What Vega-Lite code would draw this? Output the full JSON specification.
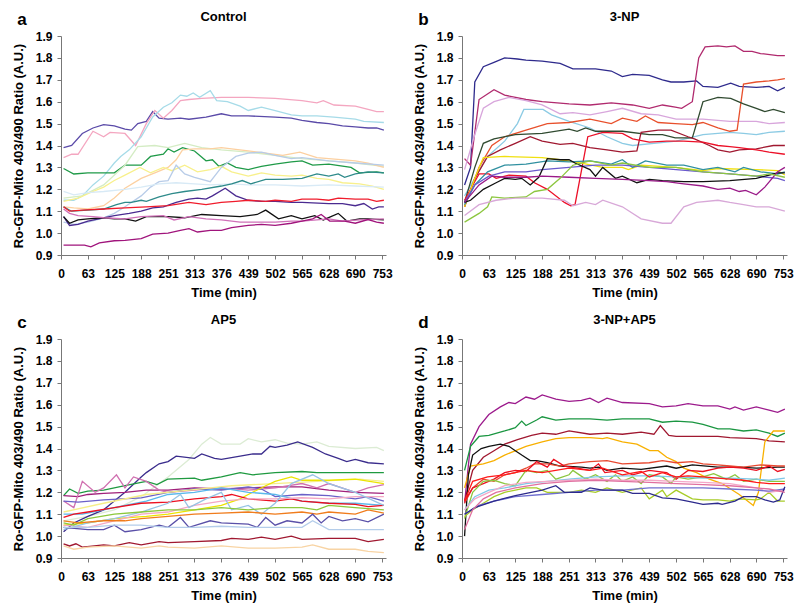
{
"$schema":"https://vega.github.io/schema/vega-lite/v6.json",
"padding":{"left":12,"top":11,"right":5,"bottom":5},
"background":"white",
"config":{"font":"Liberation Sans","view":{"stroke":null},
"axis":{"labelFont":"Liberation Sans","labelFontWeight":"bold","labelFontSize":12,"labelColor":"black","titleFont":"Liberation Sans","titleFontSize":13,"titleFontWeight":"bold","titleColor":"black","domainColor":"#777","tickColor":"#777","grid":false,"tickSize":4},
"axisX":{"labelPadding":9,"titlePadding":7,"labelFlush":false,"labelOverlap":false,"labelAngle":0},
"axisY":{"labelPadding":5,"titlePadding":10},
"title":{"font":"Liberation Sans","fontSize":13,"fontWeight":"bold","color":"black","offset":6}},
"datasets":{
"a":[
{"s":1,"t":6,"v":1.39},{"s":1,"t":25,"v":1.40},{"s":1,"t":50,"v":1.455},{"s":1,"t":75,"v":1.48},{"s":1,"t":100,"v":1.495},{"s":1,"t":125,"v":1.49},{"s":1,"t":150,"v":1.475},{"s":1,"t":165,"v":1.47},{"s":1,"t":180,"v":1.50},{"s":1,"t":200,"v":1.51},{"s":1,"t":215,"v":1.555},{"s":1,"t":230,"v":1.525},{"s":1,"t":251,"v":1.52},{"s":1,"t":280,"v":1.525},{"s":1,"t":300,"v":1.52},{"s":1,"t":340,"v":1.53},{"s":1,"t":376,"v":1.545},{"s":1,"t":400,"v":1.535},{"s":1,"t":439,"v":1.535},{"s":1,"t":502,"v":1.53},{"s":1,"t":540,"v":1.525},{"s":1,"t":565,"v":1.515},{"s":1,"t":600,"v":1.505},{"s":1,"t":628,"v":1.50},{"s":1,"t":660,"v":1.49},{"s":1,"t":690,"v":1.485},{"s":1,"t":720,"v":1.48},{"s":1,"t":740,"v":1.48},{"s":1,"t":757,"v":1.47},
{"s":2,"t":6,"v":1.345},{"s":2,"t":25,"v":1.36},{"s":2,"t":40,"v":1.36},{"s":2,"t":75,"v":1.465},{"s":2,"t":100,"v":1.44},{"s":2,"t":115,"v":1.46},{"s":2,"t":150,"v":1.455},{"s":2,"t":175,"v":1.40},{"s":2,"t":200,"v":1.50},{"s":2,"t":220,"v":1.56},{"s":2,"t":240,"v":1.525},{"s":2,"t":260,"v":1.56},{"s":2,"t":280,"v":1.605},{"s":2,"t":300,"v":1.61},{"s":2,"t":330,"v":1.615},{"s":2,"t":376,"v":1.62},{"s":2,"t":439,"v":1.62},{"s":2,"t":502,"v":1.615},{"s":2,"t":565,"v":1.605},{"s":2,"t":600,"v":1.595},{"s":2,"t":615,"v":1.605},{"s":2,"t":640,"v":1.585},{"s":2,"t":690,"v":1.58},{"s":2,"t":720,"v":1.565},{"s":2,"t":740,"v":1.555},{"s":2,"t":757,"v":1.555},
{"s":3,"t":6,"v":1.15},{"s":3,"t":30,"v":1.15},{"s":3,"t":50,"v":1.17},{"s":3,"t":75,"v":1.22},{"s":3,"t":100,"v":1.26},{"s":3,"t":125,"v":1.32},{"s":3,"t":140,"v":1.35},{"s":3,"t":160,"v":1.38},{"s":3,"t":188,"v":1.44},{"s":3,"t":215,"v":1.53},{"s":3,"t":240,"v":1.575},{"s":3,"t":260,"v":1.595},{"s":3,"t":280,"v":1.63},{"s":3,"t":295,"v":1.625},{"s":3,"t":310,"v":1.64},{"s":3,"t":325,"v":1.62},{"s":3,"t":350,"v":1.65},{"s":3,"t":365,"v":1.605},{"s":3,"t":390,"v":1.60},{"s":3,"t":420,"v":1.58},{"s":3,"t":439,"v":1.56},{"s":3,"t":470,"v":1.575},{"s":3,"t":500,"v":1.56},{"s":3,"t":540,"v":1.54},{"s":3,"t":565,"v":1.535},{"s":3,"t":600,"v":1.535},{"s":3,"t":640,"v":1.53},{"s":3,"t":690,"v":1.52},{"s":3,"t":710,"v":1.51},{"s":3,"t":757,"v":1.505},
{"s":4,"t":6,"v":1.295},{"s":4,"t":30,"v":1.27},{"s":4,"t":63,"v":1.275},{"s":4,"t":100,"v":1.275},{"s":4,"t":125,"v":1.275},{"s":4,"t":150,"v":1.31},{"s":4,"t":188,"v":1.31},{"s":4,"t":210,"v":1.35},{"s":4,"t":240,"v":1.36},{"s":4,"t":251,"v":1.385},{"s":4,"t":265,"v":1.37},{"s":4,"t":285,"v":1.39},{"s":4,"t":313,"v":1.375},{"s":4,"t":340,"v":1.33},{"s":4,"t":355,"v":1.335},{"s":4,"t":370,"v":1.305},{"s":4,"t":390,"v":1.32},{"s":4,"t":410,"v":1.30},{"s":4,"t":439,"v":1.29},{"s":4,"t":470,"v":1.305},{"s":4,"t":502,"v":1.315},{"s":4,"t":540,"v":1.325},{"s":4,"t":565,"v":1.33},{"s":4,"t":590,"v":1.31},{"s":4,"t":628,"v":1.315},{"s":4,"t":680,"v":1.30},{"s":4,"t":700,"v":1.275},{"s":4,"t":740,"v":1.28},{"s":4,"t":757,"v":1.275},
{"s":5,"t":6,"v":1.16},{"s":5,"t":50,"v":1.17},{"s":5,"t":100,"v":1.22},{"s":5,"t":150,"v":1.31},{"s":5,"t":180,"v":1.395},{"s":5,"t":220,"v":1.40},{"s":5,"t":251,"v":1.39},{"s":5,"t":290,"v":1.41},{"s":5,"t":330,"v":1.39},{"s":5,"t":376,"v":1.38},{"s":5,"t":439,"v":1.37},{"s":5,"t":502,"v":1.355},{"s":5,"t":565,"v":1.34},{"s":5,"t":628,"v":1.33},{"s":5,"t":690,"v":1.32},{"s":5,"t":757,"v":1.305},
{"s":6,"t":6,"v":1.12},{"s":6,"t":30,"v":1.115},{"s":6,"t":63,"v":1.11},{"s":6,"t":100,"v":1.125},{"s":6,"t":125,"v":1.16},{"s":6,"t":150,"v":1.205},{"s":6,"t":188,"v":1.25},{"s":6,"t":220,"v":1.275},{"s":6,"t":251,"v":1.30},{"s":6,"t":270,"v":1.335},{"s":6,"t":285,"v":1.38},{"s":6,"t":313,"v":1.385},{"s":6,"t":350,"v":1.385},{"s":6,"t":376,"v":1.39},{"s":6,"t":400,"v":1.385},{"s":6,"t":439,"v":1.375},{"s":6,"t":480,"v":1.365},{"s":6,"t":520,"v":1.355},{"s":6,"t":560,"v":1.37},{"s":6,"t":600,"v":1.345},{"s":6,"t":628,"v":1.34},{"s":6,"t":690,"v":1.33},{"s":6,"t":720,"v":1.32},{"s":6,"t":757,"v":1.30},
{"s":7,"t":6,"v":1.145},{"s":7,"t":40,"v":1.16},{"s":7,"t":75,"v":1.19},{"s":7,"t":100,"v":1.21},{"s":7,"t":125,"v":1.24},{"s":7,"t":150,"v":1.265},{"s":7,"t":185,"v":1.30},{"s":7,"t":210,"v":1.275},{"s":7,"t":240,"v":1.30},{"s":7,"t":260,"v":1.285},{"s":7,"t":290,"v":1.31},{"s":7,"t":320,"v":1.28},{"s":7,"t":350,"v":1.29},{"s":7,"t":376,"v":1.305},{"s":7,"t":400,"v":1.28},{"s":7,"t":439,"v":1.26},{"s":7,"t":470,"v":1.275},{"s":7,"t":502,"v":1.265},{"s":7,"t":540,"v":1.26},{"s":7,"t":565,"v":1.265},{"s":7,"t":600,"v":1.25},{"s":7,"t":628,"v":1.245},{"s":7,"t":660,"v":1.23},{"s":7,"t":700,"v":1.225},{"s":7,"t":730,"v":1.215},{"s":7,"t":757,"v":1.20},
{"s":8,"t":6,"v":1.05},{"s":8,"t":30,"v":1.04},{"s":8,"t":63,"v":1.05},{"s":8,"t":100,"v":1.07},{"s":8,"t":125,"v":1.09},{"s":8,"t":150,"v":1.12},{"s":8,"t":188,"v":1.17},{"s":8,"t":210,"v":1.21},{"s":8,"t":230,"v":1.235},{"s":8,"t":251,"v":1.24},{"s":8,"t":270,"v":1.31},{"s":8,"t":290,"v":1.27},{"s":8,"t":313,"v":1.255},{"s":8,"t":350,"v":1.235},{"s":8,"t":376,"v":1.30},{"s":8,"t":410,"v":1.35},{"s":8,"t":439,"v":1.365},{"s":8,"t":470,"v":1.37},{"s":8,"t":502,"v":1.355},{"s":8,"t":540,"v":1.34},{"s":8,"t":565,"v":1.345},{"s":8,"t":628,"v":1.33},{"s":8,"t":690,"v":1.32},{"s":8,"t":757,"v":1.31},
{"s":9,"t":6,"v":1.19},{"s":9,"t":30,"v":1.175},{"s":9,"t":63,"v":1.185},{"s":9,"t":100,"v":1.19},{"s":9,"t":150,"v":1.20},{"s":9,"t":188,"v":1.21},{"s":9,"t":230,"v":1.225},{"s":9,"t":270,"v":1.23},{"s":9,"t":313,"v":1.225},{"s":9,"t":350,"v":1.22},{"s":9,"t":400,"v":1.225},{"s":9,"t":439,"v":1.22},{"s":9,"t":502,"v":1.22},{"s":9,"t":565,"v":1.215},{"s":9,"t":628,"v":1.22},{"s":9,"t":690,"v":1.215},{"s":9,"t":757,"v":1.21},
{"s":10,"t":6,"v":1.12},{"s":10,"t":25,"v":1.10},{"s":10,"t":63,"v":1.105},{"s":10,"t":100,"v":1.11},{"s":10,"t":130,"v":1.13},{"s":10,"t":150,"v":1.14},{"s":10,"t":165,"v":1.14},{"s":10,"t":188,"v":1.15},{"s":10,"t":200,"v":1.145},{"s":10,"t":230,"v":1.165},{"s":10,"t":260,"v":1.18},{"s":10,"t":290,"v":1.19},{"s":10,"t":330,"v":1.20},{"s":10,"t":376,"v":1.215},{"s":10,"t":400,"v":1.225},{"s":10,"t":425,"v":1.24},{"s":10,"t":445,"v":1.225},{"s":10,"t":480,"v":1.245},{"s":10,"t":520,"v":1.245},{"s":10,"t":565,"v":1.25},{"s":10,"t":600,"v":1.27},{"s":10,"t":628,"v":1.26},{"s":10,"t":650,"v":1.27},{"s":10,"t":665,"v":1.255},{"s":10,"t":690,"v":1.27},{"s":10,"t":720,"v":1.28},{"s":10,"t":757,"v":1.275},
{"s":11,"t":6,"v":1.075},{"s":11,"t":20,"v":1.035},{"s":11,"t":40,"v":1.04},{"s":11,"t":63,"v":1.055},{"s":11,"t":100,"v":1.07},{"s":11,"t":125,"v":1.08},{"s":11,"t":160,"v":1.09},{"s":11,"t":188,"v":1.10},{"s":11,"t":215,"v":1.115},{"s":11,"t":240,"v":1.12},{"s":11,"t":270,"v":1.14},{"s":11,"t":300,"v":1.155},{"s":11,"t":320,"v":1.16},{"s":11,"t":340,"v":1.155},{"s":11,"t":355,"v":1.17},{"s":11,"t":385,"v":1.205},{"s":11,"t":410,"v":1.17},{"s":11,"t":439,"v":1.15},{"s":11,"t":470,"v":1.145},{"s":11,"t":502,"v":1.145},{"s":11,"t":540,"v":1.14},{"s":11,"t":565,"v":1.14},{"s":11,"t":628,"v":1.135},{"s":11,"t":660,"v":1.135},{"s":11,"t":690,"v":1.125},{"s":11,"t":710,"v":1.135},{"s":11,"t":730,"v":1.11},{"s":11,"t":745,"v":1.12},{"s":11,"t":757,"v":1.12},
{"s":12,"t":6,"v":1.12},{"s":12,"t":20,"v":1.10},{"s":12,"t":50,"v":1.105},{"s":12,"t":100,"v":1.11},{"s":12,"t":150,"v":1.115},{"s":12,"t":200,"v":1.12},{"s":12,"t":251,"v":1.125},{"s":12,"t":300,"v":1.14},{"s":12,"t":340,"v":1.13},{"s":12,"t":376,"v":1.14},{"s":12,"t":410,"v":1.145},{"s":12,"t":439,"v":1.15},{"s":12,"t":480,"v":1.145},{"s":12,"t":502,"v":1.15},{"s":12,"t":540,"v":1.145},{"s":12,"t":565,"v":1.155},{"s":12,"t":600,"v":1.155},{"s":12,"t":628,"v":1.15},{"s":12,"t":650,"v":1.16},{"s":12,"t":690,"v":1.155},{"s":12,"t":720,"v":1.155},{"s":12,"t":740,"v":1.145},{"s":12,"t":757,"v":1.15},
{"s":13,"t":6,"v":1.075},{"s":13,"t":20,"v":1.045},{"s":13,"t":40,"v":1.06},{"s":13,"t":63,"v":1.065},{"s":13,"t":100,"v":1.07},{"s":13,"t":125,"v":1.065},{"s":13,"t":150,"v":1.065},{"s":13,"t":175,"v":1.055},{"s":13,"t":200,"v":1.075},{"s":13,"t":251,"v":1.075},{"s":13,"t":290,"v":1.07},{"s":13,"t":330,"v":1.085},{"s":13,"t":376,"v":1.08},{"s":13,"t":420,"v":1.075},{"s":13,"t":460,"v":1.085},{"s":13,"t":480,"v":1.105},{"s":13,"t":510,"v":1.065},{"s":13,"t":540,"v":1.08},{"s":13,"t":565,"v":1.065},{"s":13,"t":595,"v":1.08},{"s":13,"t":615,"v":1.06},{"s":13,"t":650,"v":1.09},{"s":13,"t":670,"v":1.055},{"s":13,"t":700,"v":1.065},{"s":13,"t":720,"v":1.065},{"s":13,"t":757,"v":1.06},
{"s":14,"t":6,"v":1.11},{"s":14,"t":20,"v":1.09},{"s":14,"t":40,"v":1.08},{"s":14,"t":75,"v":1.075},{"s":14,"t":100,"v":1.07},{"s":14,"t":150,"v":1.065},{"s":14,"t":188,"v":1.075},{"s":14,"t":240,"v":1.08},{"s":14,"t":265,"v":1.06},{"s":14,"t":300,"v":1.075},{"s":14,"t":340,"v":1.065},{"s":14,"t":376,"v":1.06},{"s":14,"t":420,"v":1.05},{"s":14,"t":460,"v":1.05},{"s":14,"t":502,"v":1.05},{"s":14,"t":540,"v":1.055},{"s":14,"t":565,"v":1.055},{"s":14,"t":600,"v":1.06},{"s":14,"t":628,"v":1.065},{"s":14,"t":660,"v":1.055},{"s":14,"t":700,"v":1.06},{"s":14,"t":757,"v":1.065},
{"s":15,"t":6,"v":0.945},{"s":15,"t":30,"v":0.945},{"s":15,"t":55,"v":0.945},{"s":15,"t":70,"v":0.937},{"s":15,"t":90,"v":0.955},{"s":15,"t":125,"v":0.965},{"s":15,"t":150,"v":0.967},{"s":15,"t":188,"v":0.975},{"s":15,"t":215,"v":0.995},{"s":15,"t":251,"v":1.0},{"s":15,"t":280,"v":1.012},{"s":15,"t":300,"v":1.02},{"s":15,"t":320,"v":1.005},{"s":15,"t":350,"v":1.012},{"s":15,"t":376,"v":1.012},{"s":15,"t":400,"v":1.025},{"s":15,"t":439,"v":1.035},{"s":15,"t":470,"v":1.04},{"s":15,"t":502,"v":1.035},{"s":15,"t":540,"v":1.045},{"s":15,"t":565,"v":1.055},{"s":15,"t":590,"v":1.065},{"s":15,"t":610,"v":1.085},{"s":15,"t":630,"v":1.055},{"s":15,"t":665,"v":1.055},{"s":15,"t":690,"v":1.045},{"s":15,"t":720,"v":1.062},{"s":15,"t":740,"v":1.05},{"s":15,"t":757,"v":1.045}
],
"b":[
{"s":1,"t":6,"v":1.22},{"s":1,"t":20,"v":1.30},{"s":1,"t":30,"v":1.69},{"s":1,"t":50,"v":1.76},{"s":1,"t":75,"v":1.78},{"s":1,"t":100,"v":1.80},{"s":1,"t":130,"v":1.795},{"s":1,"t":150,"v":1.79},{"s":1,"t":188,"v":1.785},{"s":1,"t":230,"v":1.775},{"s":1,"t":260,"v":1.75},{"s":1,"t":313,"v":1.75},{"s":1,"t":350,"v":1.74},{"s":1,"t":376,"v":1.715},{"s":1,"t":400,"v":1.725},{"s":1,"t":439,"v":1.72},{"s":1,"t":470,"v":1.70},{"s":1,"t":490,"v":1.69},{"s":1,"t":520,"v":1.69},{"s":1,"t":550,"v":1.695},{"s":1,"t":565,"v":1.67},{"s":1,"t":600,"v":1.665},{"s":1,"t":630,"v":1.685},{"s":1,"t":650,"v":1.67},{"s":1,"t":690,"v":1.665},{"s":1,"t":720,"v":1.67},{"s":1,"t":740,"v":1.65},{"s":1,"t":757,"v":1.665},
{"s":2,"t":6,"v":1.34},{"s":2,"t":20,"v":1.31},{"s":2,"t":40,"v":1.61},{"s":2,"t":75,"v":1.655},{"s":2,"t":100,"v":1.63},{"s":2,"t":150,"v":1.61},{"s":2,"t":188,"v":1.60},{"s":2,"t":251,"v":1.59},{"s":2,"t":300,"v":1.585},{"s":2,"t":350,"v":1.595},{"s":2,"t":400,"v":1.585},{"s":2,"t":439,"v":1.57},{"s":2,"t":470,"v":1.585},{"s":2,"t":500,"v":1.575},{"s":2,"t":515,"v":1.57},{"s":2,"t":540,"v":1.60},{"s":2,"t":555,"v":1.80},{"s":2,"t":570,"v":1.85},{"s":2,"t":600,"v":1.855},{"s":2,"t":620,"v":1.85},{"s":2,"t":640,"v":1.855},{"s":2,"t":660,"v":1.83},{"s":2,"t":680,"v":1.83},{"s":2,"t":700,"v":1.82},{"s":2,"t":740,"v":1.81},{"s":2,"t":757,"v":1.81},
{"s":3,"t":6,"v":1.29},{"s":3,"t":30,"v":1.45},{"s":3,"t":50,"v":1.57},{"s":3,"t":75,"v":1.60},{"s":3,"t":110,"v":1.62},{"s":3,"t":150,"v":1.605},{"s":3,"t":188,"v":1.585},{"s":3,"t":230,"v":1.545},{"s":3,"t":260,"v":1.55},{"s":3,"t":300,"v":1.54},{"s":3,"t":340,"v":1.555},{"s":3,"t":376,"v":1.57},{"s":3,"t":420,"v":1.545},{"s":3,"t":460,"v":1.54},{"s":3,"t":502,"v":1.52},{"s":3,"t":565,"v":1.52},{"s":3,"t":628,"v":1.51},{"s":3,"t":690,"v":1.51},{"s":3,"t":720,"v":1.50},{"s":3,"t":757,"v":1.505},
{"s":4,"t":6,"v":1.17},{"s":4,"t":30,"v":1.25},{"s":4,"t":60,"v":1.35},{"s":4,"t":100,"v":1.42},{"s":4,"t":130,"v":1.50},{"s":4,"t":145,"v":1.565},{"s":4,"t":190,"v":1.565},{"s":4,"t":210,"v":1.54},{"s":4,"t":251,"v":1.51},{"s":4,"t":300,"v":1.48},{"s":4,"t":340,"v":1.44},{"s":4,"t":376,"v":1.41},{"s":4,"t":400,"v":1.40},{"s":4,"t":450,"v":1.41},{"s":4,"t":502,"v":1.42},{"s":4,"t":565,"v":1.45},{"s":4,"t":628,"v":1.46},{"s":4,"t":660,"v":1.455},{"s":4,"t":690,"v":1.45},{"s":4,"t":720,"v":1.46},{"s":4,"t":757,"v":1.465},
{"s":5,"t":6,"v":1.12},{"s":5,"t":40,"v":1.30},{"s":5,"t":70,"v":1.40},{"s":5,"t":100,"v":1.44},{"s":5,"t":150,"v":1.47},{"s":5,"t":200,"v":1.50},{"s":5,"t":251,"v":1.505},{"s":5,"t":300,"v":1.52},{"s":5,"t":350,"v":1.50},{"s":5,"t":376,"v":1.525},{"s":5,"t":410,"v":1.51},{"s":5,"t":430,"v":1.535},{"s":5,"t":460,"v":1.505},{"s":5,"t":500,"v":1.50},{"s":5,"t":540,"v":1.495},{"s":5,"t":565,"v":1.505},{"s":5,"t":600,"v":1.48},{"s":5,"t":628,"v":1.465},{"s":5,"t":645,"v":1.47},{"s":5,"t":660,"v":1.68},{"s":5,"t":690,"v":1.69},{"s":5,"t":720,"v":1.695},{"s":5,"t":740,"v":1.70},{"s":5,"t":757,"v":1.705},
{"s":6,"t":6,"v":1.14},{"s":6,"t":30,"v":1.30},{"s":6,"t":50,"v":1.41},{"s":6,"t":75,"v":1.43},{"s":6,"t":125,"v":1.45},{"s":6,"t":188,"v":1.455},{"s":6,"t":251,"v":1.475},{"s":6,"t":270,"v":1.465},{"s":6,"t":290,"v":1.48},{"s":6,"t":313,"v":1.465},{"s":6,"t":376,"v":1.465},{"s":6,"t":439,"v":1.45},{"s":6,"t":470,"v":1.45},{"s":6,"t":500,"v":1.435},{"s":6,"t":540,"v":1.435},{"s":6,"t":565,"v":1.60},{"s":6,"t":600,"v":1.62},{"s":6,"t":630,"v":1.615},{"s":6,"t":660,"v":1.59},{"s":6,"t":690,"v":1.57},{"s":6,"t":710,"v":1.555},{"s":6,"t":730,"v":1.565},{"s":6,"t":757,"v":1.55},
{"s":7,"t":6,"v":1.12},{"s":7,"t":30,"v":1.25},{"s":7,"t":60,"v":1.35},{"s":7,"t":90,"v":1.38},{"s":7,"t":125,"v":1.41},{"s":7,"t":160,"v":1.44},{"s":7,"t":188,"v":1.42},{"s":7,"t":230,"v":1.405},{"s":7,"t":260,"v":1.41},{"s":7,"t":300,"v":1.39},{"s":7,"t":340,"v":1.38},{"s":7,"t":376,"v":1.37},{"s":7,"t":410,"v":1.375},{"s":7,"t":420,"v":1.46},{"s":7,"t":460,"v":1.47},{"s":7,"t":490,"v":1.47},{"s":7,"t":530,"v":1.44},{"s":7,"t":545,"v":1.43},{"s":7,"t":580,"v":1.40},{"s":7,"t":600,"v":1.38},{"s":7,"t":628,"v":1.37},{"s":7,"t":650,"v":1.38},{"s":7,"t":690,"v":1.385},{"s":7,"t":730,"v":1.40},{"s":7,"t":757,"v":1.40},
{"s":8,"t":6,"v":1.15},{"s":8,"t":20,"v":1.20},{"s":8,"t":40,"v":1.27},{"s":8,"t":63,"v":1.27},{"s":8,"t":80,"v":1.25},{"s":8,"t":110,"v":1.265},{"s":8,"t":150,"v":1.26},{"s":8,"t":170,"v":1.23},{"s":8,"t":200,"v":1.20},{"s":8,"t":240,"v":1.14},{"s":8,"t":255,"v":1.125},{"s":8,"t":265,"v":1.13},{"s":8,"t":295,"v":1.44},{"s":8,"t":330,"v":1.46},{"s":8,"t":376,"v":1.455},{"s":8,"t":400,"v":1.43},{"s":8,"t":439,"v":1.415},{"s":8,"t":480,"v":1.42},{"s":8,"t":520,"v":1.42},{"s":8,"t":565,"v":1.415},{"s":8,"t":600,"v":1.40},{"s":8,"t":628,"v":1.395},{"s":8,"t":650,"v":1.39},{"s":8,"t":690,"v":1.38},{"s":8,"t":720,"v":1.37},{"s":8,"t":757,"v":1.36},
{"s":9,"t":6,"v":1.12},{"s":9,"t":30,"v":1.25},{"s":9,"t":50,"v":1.345},{"s":9,"t":100,"v":1.35},{"s":9,"t":188,"v":1.345},{"s":9,"t":230,"v":1.335},{"s":9,"t":280,"v":1.32},{"s":9,"t":330,"v":1.30},{"s":9,"t":376,"v":1.30},{"s":9,"t":390,"v":1.29},{"s":9,"t":420,"v":1.31},{"s":9,"t":500,"v":1.30},{"s":9,"t":565,"v":1.285},{"s":9,"t":600,"v":1.295},{"s":9,"t":690,"v":1.29},{"s":9,"t":740,"v":1.285},{"s":9,"t":757,"v":1.265},
{"s":10,"t":6,"v":1.13},{"s":10,"t":30,"v":1.22},{"s":10,"t":60,"v":1.28},{"s":10,"t":100,"v":1.31},{"s":10,"t":150,"v":1.315},{"s":10,"t":200,"v":1.33},{"s":10,"t":251,"v":1.325},{"s":10,"t":300,"v":1.33},{"s":10,"t":350,"v":1.315},{"s":10,"t":376,"v":1.335},{"s":10,"t":400,"v":1.30},{"s":10,"t":430,"v":1.33},{"s":10,"t":480,"v":1.31},{"s":10,"t":520,"v":1.31},{"s":10,"t":565,"v":1.29},{"s":10,"t":600,"v":1.30},{"s":10,"t":640,"v":1.28},{"s":10,"t":660,"v":1.30},{"s":10,"t":700,"v":1.28},{"s":10,"t":740,"v":1.27},{"s":10,"t":757,"v":1.28},
{"s":11,"t":6,"v":1.14},{"s":11,"t":30,"v":1.22},{"s":11,"t":63,"v":1.26},{"s":11,"t":100,"v":1.28},{"s":11,"t":150,"v":1.28},{"s":11,"t":188,"v":1.29},{"s":11,"t":251,"v":1.30},{"s":11,"t":313,"v":1.31},{"s":11,"t":376,"v":1.31},{"s":11,"t":439,"v":1.30},{"s":11,"t":502,"v":1.29},{"s":11,"t":565,"v":1.28},{"s":11,"t":628,"v":1.27},{"s":11,"t":690,"v":1.26},{"s":11,"t":740,"v":1.25},{"s":11,"t":757,"v":1.24},
{"s":12,"t":6,"v":1.14},{"s":12,"t":20,"v":1.15},{"s":12,"t":50,"v":1.20},{"s":12,"t":80,"v":1.23},{"s":12,"t":100,"v":1.25},{"s":12,"t":125,"v":1.245},{"s":12,"t":140,"v":1.25},{"s":12,"t":160,"v":1.22},{"s":12,"t":180,"v":1.255},{"s":12,"t":200,"v":1.34},{"s":12,"t":230,"v":1.335},{"s":12,"t":251,"v":1.335},{"s":12,"t":265,"v":1.32},{"s":12,"t":300,"v":1.29},{"s":12,"t":313,"v":1.26},{"s":12,"t":330,"v":1.30},{"s":12,"t":360,"v":1.25},{"s":12,"t":376,"v":1.26},{"s":12,"t":410,"v":1.23},{"s":12,"t":439,"v":1.245},{"s":12,"t":470,"v":1.24},{"s":12,"t":520,"v":1.235},{"s":12,"t":565,"v":1.235},{"s":12,"t":628,"v":1.24},{"s":12,"t":690,"v":1.25},{"s":12,"t":720,"v":1.265},{"s":12,"t":740,"v":1.275},{"s":12,"t":757,"v":1.275},
{"s":13,"t":6,"v":1.14},{"s":13,"t":40,"v":1.22},{"s":13,"t":70,"v":1.26},{"s":13,"t":100,"v":1.255},{"s":13,"t":150,"v":1.255},{"s":13,"t":188,"v":1.26},{"s":13,"t":251,"v":1.255},{"s":13,"t":313,"v":1.25},{"s":13,"t":376,"v":1.245},{"s":13,"t":439,"v":1.24},{"s":13,"t":480,"v":1.235},{"s":13,"t":520,"v":1.225},{"s":13,"t":565,"v":1.215},{"s":13,"t":600,"v":1.20},{"s":13,"t":628,"v":1.205},{"s":13,"t":650,"v":1.19},{"s":13,"t":665,"v":1.195},{"s":13,"t":690,"v":1.175},{"s":13,"t":710,"v":1.21},{"s":13,"t":740,"v":1.28},{"s":13,"t":757,"v":1.30},
{"s":14,"t":6,"v":1.05},{"s":14,"t":40,"v":1.09},{"s":14,"t":60,"v":1.12},{"s":14,"t":70,"v":1.165},{"s":14,"t":100,"v":1.16},{"s":14,"t":150,"v":1.165},{"s":14,"t":170,"v":1.19},{"s":14,"t":200,"v":1.20},{"s":14,"t":230,"v":1.25},{"s":14,"t":260,"v":1.31},{"s":14,"t":300,"v":1.33},{"s":14,"t":350,"v":1.31},{"s":14,"t":376,"v":1.32},{"s":14,"t":439,"v":1.30},{"s":14,"t":502,"v":1.30},{"s":14,"t":565,"v":1.28},{"s":14,"t":628,"v":1.27},{"s":14,"t":690,"v":1.26},{"s":14,"t":720,"v":1.27},{"s":14,"t":757,"v":1.255},
{"s":15,"t":6,"v":1.08},{"s":15,"t":40,"v":1.13},{"s":15,"t":80,"v":1.15},{"s":15,"t":125,"v":1.16},{"s":15,"t":188,"v":1.16},{"s":15,"t":240,"v":1.15},{"s":15,"t":260,"v":1.125},{"s":15,"t":290,"v":1.14},{"s":15,"t":313,"v":1.13},{"s":15,"t":330,"v":1.15},{"s":15,"t":376,"v":1.12},{"s":15,"t":420,"v":1.065},{"s":15,"t":470,"v":1.045},{"s":15,"t":490,"v":1.045},{"s":15,"t":520,"v":1.12},{"s":15,"t":550,"v":1.14},{"s":15,"t":600,"v":1.15},{"s":15,"t":628,"v":1.14},{"s":15,"t":660,"v":1.13},{"s":15,"t":690,"v":1.12},{"s":15,"t":720,"v":1.12},{"s":15,"t":757,"v":1.10}
],
"c":[
{"s":1,"t":6,"v":1.07},{"s":1,"t":63,"v":1.09},{"s":1,"t":125,"v":1.12},{"s":1,"t":188,"v":1.18},{"s":1,"t":230,"v":1.24},{"s":1,"t":251,"v":1.27},{"s":1,"t":300,"v":1.35},{"s":1,"t":330,"v":1.42},{"s":1,"t":350,"v":1.45},{"s":1,"t":376,"v":1.42},{"s":1,"t":420,"v":1.42},{"s":1,"t":439,"v":1.445},{"s":1,"t":470,"v":1.43},{"s":1,"t":502,"v":1.44},{"s":1,"t":530,"v":1.425},{"s":1,"t":565,"v":1.42},{"s":1,"t":600,"v":1.43},{"s":1,"t":628,"v":1.41},{"s":1,"t":690,"v":1.40},{"s":1,"t":740,"v":1.405},{"s":1,"t":757,"v":1.39},
{"s":2,"t":6,"v":1.02},{"s":2,"t":30,"v":1.06},{"s":2,"t":63,"v":1.09},{"s":2,"t":100,"v":1.12},{"s":2,"t":125,"v":1.16},{"s":2,"t":150,"v":1.20},{"s":2,"t":188,"v":1.27},{"s":2,"t":200,"v":1.29},{"s":2,"t":230,"v":1.33},{"s":2,"t":251,"v":1.34},{"s":2,"t":270,"v":1.365},{"s":2,"t":313,"v":1.355},{"s":2,"t":330,"v":1.375},{"s":2,"t":360,"v":1.355},{"s":2,"t":376,"v":1.35},{"s":2,"t":420,"v":1.365},{"s":2,"t":450,"v":1.375},{"s":2,"t":470,"v":1.375},{"s":2,"t":490,"v":1.41},{"s":2,"t":502,"v":1.405},{"s":2,"t":530,"v":1.415},{"s":2,"t":555,"v":1.43},{"s":2,"t":590,"v":1.405},{"s":2,"t":620,"v":1.375},{"s":2,"t":650,"v":1.355},{"s":2,"t":670,"v":1.34},{"s":2,"t":690,"v":1.35},{"s":2,"t":720,"v":1.335},{"s":2,"t":757,"v":1.33},
{"s":3,"t":6,"v":1.185},{"s":3,"t":20,"v":1.215},{"s":3,"t":40,"v":1.195},{"s":3,"t":63,"v":1.205},{"s":3,"t":100,"v":1.21},{"s":3,"t":150,"v":1.23},{"s":3,"t":188,"v":1.245},{"s":3,"t":200,"v":1.25},{"s":3,"t":225,"v":1.235},{"s":3,"t":250,"v":1.26},{"s":3,"t":313,"v":1.265},{"s":3,"t":330,"v":1.255},{"s":3,"t":376,"v":1.27},{"s":3,"t":420,"v":1.29},{"s":3,"t":450,"v":1.28},{"s":3,"t":502,"v":1.29},{"s":3,"t":565,"v":1.295},{"s":3,"t":600,"v":1.29},{"s":3,"t":690,"v":1.29},{"s":3,"t":757,"v":1.29},
{"s":4,"t":6,"v":1.185},{"s":4,"t":40,"v":1.18},{"s":4,"t":63,"v":1.19},{"s":4,"t":100,"v":1.195},{"s":4,"t":150,"v":1.20},{"s":4,"t":200,"v":1.21},{"s":4,"t":251,"v":1.21},{"s":4,"t":313,"v":1.22},{"s":4,"t":376,"v":1.215},{"s":4,"t":439,"v":1.22},{"s":4,"t":502,"v":1.225},{"s":4,"t":565,"v":1.225},{"s":4,"t":628,"v":1.21},{"s":4,"t":690,"v":1.20},{"s":4,"t":757,"v":1.195},
{"s":5,"t":6,"v":1.16},{"s":5,"t":30,"v":1.13},{"s":5,"t":50,"v":1.25},{"s":5,"t":80,"v":1.20},{"s":5,"t":100,"v":1.22},{"s":5,"t":130,"v":1.28},{"s":5,"t":150,"v":1.22},{"s":5,"t":170,"v":1.27},{"s":5,"t":200,"v":1.25},{"s":5,"t":230,"v":1.21},{"s":5,"t":251,"v":1.20},{"s":5,"t":313,"v":1.21},{"s":5,"t":376,"v":1.22},{"s":5,"t":439,"v":1.21},{"s":5,"t":502,"v":1.22},{"s":5,"t":565,"v":1.24},{"s":5,"t":600,"v":1.22},{"s":5,"t":628,"v":1.24},{"s":5,"t":690,"v":1.20},{"s":5,"t":720,"v":1.22},{"s":5,"t":757,"v":1.235},
{"s":6,"t":6,"v":1.16},{"s":6,"t":40,"v":1.155},{"s":6,"t":100,"v":1.165},{"s":6,"t":188,"v":1.175},{"s":6,"t":251,"v":1.20},{"s":6,"t":313,"v":1.215},{"s":6,"t":376,"v":1.21},{"s":6,"t":439,"v":1.225},{"s":6,"t":470,"v":1.215},{"s":6,"t":502,"v":1.18},{"s":6,"t":565,"v":1.19},{"s":6,"t":628,"v":1.185},{"s":6,"t":690,"v":1.17},{"s":6,"t":720,"v":1.18},{"s":6,"t":757,"v":1.16},
{"s":7,"t":6,"v":1.11},{"s":7,"t":100,"v":1.15},{"s":7,"t":200,"v":1.19},{"s":7,"t":300,"v":1.21},{"s":7,"t":400,"v":1.23},{"s":7,"t":500,"v":1.24},{"s":7,"t":600,"v":1.25},{"s":7,"t":700,"v":1.26},{"s":7,"t":757,"v":1.25},
{"s":8,"t":6,"v":1.05},{"s":8,"t":63,"v":1.06},{"s":8,"t":125,"v":1.08},{"s":8,"t":200,"v":1.09},{"s":8,"t":251,"v":1.10},{"s":8,"t":313,"v":1.12},{"s":8,"t":376,"v":1.14},{"s":8,"t":420,"v":1.17},{"s":8,"t":439,"v":1.19},{"s":8,"t":480,"v":1.23},{"s":8,"t":502,"v":1.25},{"s":8,"t":540,"v":1.27},{"s":8,"t":565,"v":1.255},{"s":8,"t":628,"v":1.255},{"s":8,"t":690,"v":1.26},{"s":8,"t":757,"v":1.24},
{"s":9,"t":6,"v":1.10},{"s":9,"t":50,"v":1.10},{"s":9,"t":100,"v":1.12},{"s":9,"t":150,"v":1.14},{"s":9,"t":200,"v":1.16},{"s":9,"t":251,"v":1.19},{"s":9,"t":313,"v":1.20},{"s":9,"t":376,"v":1.22},{"s":9,"t":439,"v":1.20},{"s":9,"t":502,"v":1.19},{"s":9,"t":565,"v":1.16},{"s":9,"t":628,"v":1.15},{"s":9,"t":690,"v":1.15},{"s":9,"t":757,"v":1.14},
{"s":10,"t":6,"v":1.085},{"s":10,"t":30,"v":1.10},{"s":10,"t":63,"v":1.11},{"s":10,"t":125,"v":1.13},{"s":10,"t":188,"v":1.15},{"s":10,"t":251,"v":1.155},{"s":10,"t":313,"v":1.17},{"s":10,"t":376,"v":1.18},{"s":10,"t":400,"v":1.19},{"s":10,"t":439,"v":1.17},{"s":10,"t":502,"v":1.16},{"s":10,"t":540,"v":1.17},{"s":10,"t":565,"v":1.16},{"s":10,"t":628,"v":1.15},{"s":10,"t":690,"v":1.145},{"s":10,"t":720,"v":1.135},{"s":10,"t":757,"v":1.14},
{"s":11,"t":6,"v":1.05},{"s":11,"t":63,"v":1.04},{"s":11,"t":125,"v":1.07},{"s":11,"t":188,"v":1.10},{"s":11,"t":251,"v":1.11},{"s":11,"t":313,"v":1.14},{"s":11,"t":376,"v":1.16},{"s":11,"t":439,"v":1.17},{"s":11,"t":502,"v":1.17},{"s":11,"t":565,"v":1.175},{"s":11,"t":628,"v":1.17},{"s":11,"t":690,"v":1.18},{"s":11,"t":757,"v":1.18},
{"s":12,"t":6,"v":1.03},{"s":12,"t":63,"v":1.06},{"s":12,"t":125,"v":1.08},{"s":12,"t":188,"v":1.11},{"s":12,"t":251,"v":1.15},{"s":12,"t":280,"v":1.19},{"s":12,"t":300,"v":1.13},{"s":12,"t":340,"v":1.17},{"s":12,"t":376,"v":1.20},{"s":12,"t":400,"v":1.12},{"s":12,"t":439,"v":1.14},{"s":12,"t":470,"v":1.10},{"s":12,"t":502,"v":1.15},{"s":12,"t":540,"v":1.24},{"s":12,"t":590,"v":1.28},{"s":12,"t":628,"v":1.24},{"s":12,"t":690,"v":1.20},{"s":12,"t":757,"v":1.14},
{"s":13,"t":6,"v":1.06},{"s":13,"t":30,"v":1.05},{"s":13,"t":63,"v":1.08},{"s":13,"t":125,"v":1.10},{"s":13,"t":188,"v":1.11},{"s":13,"t":251,"v":1.12},{"s":13,"t":313,"v":1.12},{"s":13,"t":376,"v":1.13},{"s":13,"t":439,"v":1.12},{"s":13,"t":502,"v":1.13},{"s":13,"t":565,"v":1.13},{"s":13,"t":600,"v":1.12},{"s":13,"t":628,"v":1.14},{"s":13,"t":690,"v":1.13},{"s":13,"t":757,"v":1.12},
{"s":14,"t":6,"v":1.07},{"s":14,"t":40,"v":1.06},{"s":14,"t":100,"v":1.07},{"s":14,"t":150,"v":1.07},{"s":14,"t":188,"v":1.08},{"s":14,"t":251,"v":1.09},{"s":14,"t":313,"v":1.10},{"s":14,"t":376,"v":1.105},{"s":14,"t":439,"v":1.11},{"s":14,"t":502,"v":1.10},{"s":14,"t":565,"v":1.11},{"s":14,"t":600,"v":1.10},{"s":14,"t":628,"v":1.11},{"s":14,"t":690,"v":1.10},{"s":14,"t":720,"v":1.12},{"s":14,"t":757,"v":1.105},
{"s":15,"t":6,"v":1.04},{"s":15,"t":63,"v":1.03},{"s":15,"t":100,"v":1.03},{"s":15,"t":125,"v":1.05},{"s":15,"t":150,"v":1.02},{"s":15,"t":188,"v":1.03},{"s":15,"t":230,"v":1.05},{"s":15,"t":251,"v":1.04},{"s":15,"t":280,"v":1.085},{"s":15,"t":300,"v":1.04},{"s":15,"t":350,"v":1.07},{"s":15,"t":376,"v":1.06},{"s":15,"t":439,"v":1.055},{"s":15,"t":460,"v":1.04},{"s":15,"t":480,"v":1.085},{"s":15,"t":502,"v":1.05},{"s":15,"t":530,"v":1.07},{"s":15,"t":565,"v":1.06},{"s":15,"t":590,"v":1.10},{"s":15,"t":610,"v":1.06},{"s":15,"t":628,"v":1.09},{"s":15,"t":660,"v":1.07},{"s":15,"t":690,"v":1.08},{"s":15,"t":720,"v":1.065},{"s":15,"t":757,"v":1.10},
{"s":16,"t":6,"v":1.04},{"s":16,"t":63,"v":1.04},{"s":16,"t":125,"v":1.05},{"s":16,"t":188,"v":1.05},{"s":16,"t":251,"v":1.04},{"s":16,"t":313,"v":1.04},{"s":16,"t":376,"v":1.045},{"s":16,"t":439,"v":1.04},{"s":16,"t":502,"v":1.04},{"s":16,"t":565,"v":1.04},{"s":16,"t":590,"v":1.07},{"s":16,"t":628,"v":1.03},{"s":16,"t":690,"v":1.03},{"s":16,"t":757,"v":1.03},
{"s":17,"t":6,"v":0.965},{"s":17,"t":20,"v":0.955},{"s":17,"t":35,"v":0.965},{"s":17,"t":50,"v":0.95},{"s":17,"t":100,"v":0.96},{"s":17,"t":125,"v":0.955},{"s":17,"t":160,"v":0.97},{"s":17,"t":188,"v":0.96},{"s":17,"t":230,"v":0.975},{"s":17,"t":251,"v":0.97},{"s":17,"t":313,"v":0.975},{"s":17,"t":376,"v":0.98},{"s":17,"t":400,"v":0.99},{"s":17,"t":439,"v":0.985},{"s":17,"t":470,"v":0.995},{"s":17,"t":502,"v":0.985},{"s":17,"t":540,"v":1.0},{"s":17,"t":565,"v":0.985},{"s":17,"t":628,"v":0.99},{"s":17,"t":690,"v":0.99},{"s":17,"t":720,"v":0.975},{"s":17,"t":757,"v":0.985},
{"s":18,"t":6,"v":0.955},{"s":18,"t":30,"v":0.94},{"s":18,"t":63,"v":0.95},{"s":18,"t":125,"v":0.955},{"s":18,"t":188,"v":0.945},{"s":18,"t":230,"v":0.955},{"s":18,"t":251,"v":0.95},{"s":18,"t":313,"v":0.945},{"s":18,"t":376,"v":0.955},{"s":18,"t":439,"v":0.945},{"s":18,"t":502,"v":0.945},{"s":18,"t":565,"v":0.95},{"s":18,"t":590,"v":0.96},{"s":18,"t":628,"v":0.94},{"s":18,"t":690,"v":0.94},{"s":18,"t":720,"v":0.93},{"s":18,"t":757,"v":0.925}
],
"d":[
{"s":1,"t":6,"v":1.15},{"s":1,"t":20,"v":1.42},{"s":1,"t":40,"v":1.50},{"s":1,"t":63,"v":1.555},{"s":1,"t":90,"v":1.59},{"s":1,"t":110,"v":1.61},{"s":1,"t":125,"v":1.605},{"s":1,"t":150,"v":1.635},{"s":1,"t":170,"v":1.625},{"s":1,"t":188,"v":1.645},{"s":1,"t":220,"v":1.625},{"s":1,"t":251,"v":1.615},{"s":1,"t":280,"v":1.62},{"s":1,"t":300,"v":1.63},{"s":1,"t":320,"v":1.61},{"s":1,"t":340,"v":1.63},{"s":1,"t":376,"v":1.61},{"s":1,"t":439,"v":1.605},{"s":1,"t":470,"v":1.59},{"s":1,"t":502,"v":1.595},{"s":1,"t":530,"v":1.605},{"s":1,"t":565,"v":1.595},{"s":1,"t":600,"v":1.595},{"s":1,"t":628,"v":1.58},{"s":1,"t":640,"v":1.59},{"s":1,"t":660,"v":1.575},{"s":1,"t":690,"v":1.59},{"s":1,"t":720,"v":1.575},{"s":1,"t":740,"v":1.565},{"s":1,"t":757,"v":1.58},
{"s":2,"t":6,"v":1.30},{"s":2,"t":20,"v":1.41},{"s":2,"t":40,"v":1.455},{"s":2,"t":63,"v":1.46},{"s":2,"t":100,"v":1.48},{"s":2,"t":125,"v":1.495},{"s":2,"t":140,"v":1.525},{"s":2,"t":150,"v":1.505},{"s":2,"t":175,"v":1.53},{"s":2,"t":188,"v":1.545},{"s":2,"t":220,"v":1.53},{"s":2,"t":251,"v":1.535},{"s":2,"t":300,"v":1.535},{"s":2,"t":340,"v":1.53},{"s":2,"t":376,"v":1.535},{"s":2,"t":439,"v":1.535},{"s":2,"t":470,"v":1.52},{"s":2,"t":502,"v":1.525},{"s":2,"t":540,"v":1.52},{"s":2,"t":565,"v":1.51},{"s":2,"t":600,"v":1.49},{"s":2,"t":628,"v":1.49},{"s":2,"t":660,"v":1.48},{"s":2,"t":690,"v":1.485},{"s":2,"t":720,"v":1.47},{"s":2,"t":740,"v":1.455},{"s":2,"t":757,"v":1.47},
{"s":3,"t":6,"v":1.16},{"s":3,"t":25,"v":1.30},{"s":3,"t":50,"v":1.36},{"s":3,"t":75,"v":1.39},{"s":3,"t":100,"v":1.42},{"s":3,"t":130,"v":1.44},{"s":3,"t":163,"v":1.46},{"s":3,"t":188,"v":1.47},{"s":3,"t":220,"v":1.465},{"s":3,"t":251,"v":1.48},{"s":3,"t":300,"v":1.465},{"s":3,"t":340,"v":1.47},{"s":3,"t":376,"v":1.465},{"s":3,"t":420,"v":1.475},{"s":3,"t":450,"v":1.465},{"s":3,"t":465,"v":1.505},{"s":3,"t":485,"v":1.46},{"s":3,"t":502,"v":1.455},{"s":3,"t":565,"v":1.455},{"s":3,"t":600,"v":1.455},{"s":3,"t":628,"v":1.45},{"s":3,"t":690,"v":1.445},{"s":3,"t":720,"v":1.435},{"s":3,"t":757,"v":1.43},
{"s":4,"t":6,"v":1.22},{"s":4,"t":20,"v":1.32},{"s":4,"t":50,"v":1.33},{"s":4,"t":75,"v":1.345},{"s":4,"t":100,"v":1.37},{"s":4,"t":150,"v":1.41},{"s":4,"t":188,"v":1.43},{"s":4,"t":220,"v":1.445},{"s":4,"t":251,"v":1.45},{"s":4,"t":300,"v":1.45},{"s":4,"t":330,"v":1.445},{"s":4,"t":340,"v":1.45},{"s":4,"t":376,"v":1.43},{"s":4,"t":410,"v":1.42},{"s":4,"t":440,"v":1.39},{"s":4,"t":460,"v":1.39},{"s":4,"t":480,"v":1.36},{"s":4,"t":502,"v":1.34},{"s":4,"t":520,"v":1.31},{"s":4,"t":550,"v":1.29},{"s":4,"t":580,"v":1.26},{"s":4,"t":610,"v":1.24},{"s":4,"t":650,"v":1.19},{"s":4,"t":683,"v":1.14},{"s":4,"t":695,"v":1.20},{"s":4,"t":710,"v":1.43},{"s":4,"t":730,"v":1.48},{"s":4,"t":757,"v":1.48},
{"s":5,"t":6,"v":1.0},{"s":5,"t":15,"v":1.28},{"s":5,"t":25,"v":1.37},{"s":5,"t":45,"v":1.40},{"s":5,"t":63,"v":1.41},{"s":5,"t":90,"v":1.42},{"s":5,"t":110,"v":1.41},{"s":5,"t":125,"v":1.39},{"s":5,"t":140,"v":1.37},{"s":5,"t":160,"v":1.345},{"s":5,"t":175,"v":1.345},{"s":5,"t":200,"v":1.335},{"s":5,"t":230,"v":1.32},{"s":5,"t":280,"v":1.315},{"s":5,"t":300,"v":1.31},{"s":5,"t":320,"v":1.315},{"s":5,"t":340,"v":1.30},{"s":5,"t":376,"v":1.31},{"s":5,"t":420,"v":1.305},{"s":5,"t":480,"v":1.32},{"s":5,"t":502,"v":1.31},{"s":5,"t":540,"v":1.325},{"s":5,"t":600,"v":1.315},{"s":5,"t":650,"v":1.315},{"s":5,"t":690,"v":1.31},{"s":5,"t":740,"v":1.315},{"s":5,"t":757,"v":1.315},
{"s":6,"t":6,"v":1.15},{"s":6,"t":25,"v":1.22},{"s":6,"t":50,"v":1.26},{"s":6,"t":75,"v":1.25},{"s":6,"t":100,"v":1.28},{"s":6,"t":125,"v":1.29},{"s":6,"t":150,"v":1.31},{"s":6,"t":170,"v":1.33},{"s":6,"t":200,"v":1.33},{"s":6,"t":230,"v":1.32},{"s":6,"t":251,"v":1.33},{"s":6,"t":300,"v":1.34},{"s":6,"t":340,"v":1.345},{"s":6,"t":376,"v":1.33},{"s":6,"t":439,"v":1.335},{"s":6,"t":470,"v":1.345},{"s":6,"t":502,"v":1.335},{"s":6,"t":540,"v":1.34},{"s":6,"t":565,"v":1.33},{"s":6,"t":600,"v":1.325},{"s":6,"t":628,"v":1.32},{"s":6,"t":660,"v":1.315},{"s":6,"t":700,"v":1.325},{"s":6,"t":740,"v":1.32},{"s":6,"t":757,"v":1.32},
{"s":7,"t":6,"v":1.16},{"s":7,"t":25,"v":1.22},{"s":7,"t":50,"v":1.24},{"s":7,"t":75,"v":1.26},{"s":7,"t":100,"v":1.29},{"s":7,"t":125,"v":1.30},{"s":7,"t":150,"v":1.295},{"s":7,"t":175,"v":1.34},{"s":7,"t":200,"v":1.315},{"s":7,"t":215,"v":1.35},{"s":7,"t":240,"v":1.32},{"s":7,"t":270,"v":1.31},{"s":7,"t":300,"v":1.30},{"s":7,"t":320,"v":1.33},{"s":7,"t":335,"v":1.29},{"s":7,"t":376,"v":1.30},{"s":7,"t":400,"v":1.28},{"s":7,"t":439,"v":1.30},{"s":7,"t":480,"v":1.29},{"s":7,"t":502,"v":1.26},{"s":7,"t":530,"v":1.30},{"s":7,"t":565,"v":1.295},{"s":7,"t":600,"v":1.31},{"s":7,"t":628,"v":1.315},{"s":7,"t":660,"v":1.31},{"s":7,"t":690,"v":1.30},{"s":7,"t":720,"v":1.32},{"s":7,"t":740,"v":1.295},{"s":7,"t":757,"v":1.305},
{"s":8,"t":6,"v":1.08},{"s":8,"t":25,"v":1.20},{"s":8,"t":50,"v":1.25},{"s":8,"t":75,"v":1.255},{"s":8,"t":100,"v":1.24},{"s":8,"t":125,"v":1.23},{"s":8,"t":150,"v":1.30},{"s":8,"t":175,"v":1.29},{"s":8,"t":200,"v":1.30},{"s":8,"t":220,"v":1.26},{"s":8,"t":251,"v":1.28},{"s":8,"t":260,"v":1.30},{"s":8,"t":290,"v":1.26},{"s":8,"t":313,"v":1.28},{"s":8,"t":340,"v":1.25},{"s":8,"t":360,"v":1.28},{"s":8,"t":376,"v":1.25},{"s":8,"t":400,"v":1.27},{"s":8,"t":420,"v":1.24},{"s":8,"t":439,"v":1.28},{"s":8,"t":470,"v":1.27},{"s":8,"t":490,"v":1.24},{"s":8,"t":502,"v":1.27},{"s":8,"t":530,"v":1.26},{"s":8,"t":565,"v":1.27},{"s":8,"t":590,"v":1.285},{"s":8,"t":620,"v":1.26},{"s":8,"t":640,"v":1.28},{"s":8,"t":660,"v":1.25},{"s":8,"t":690,"v":1.26},{"s":8,"t":720,"v":1.25},{"s":8,"t":757,"v":1.25},
{"s":9,"t":6,"v":1.09},{"s":9,"t":25,"v":1.12},{"s":9,"t":50,"v":1.15},{"s":9,"t":75,"v":1.18},{"s":9,"t":100,"v":1.20},{"s":9,"t":125,"v":1.21},{"s":9,"t":150,"v":1.22},{"s":9,"t":175,"v":1.22},{"s":9,"t":200,"v":1.20},{"s":9,"t":251,"v":1.20},{"s":9,"t":280,"v":1.21},{"s":9,"t":313,"v":1.20},{"s":9,"t":340,"v":1.22},{"s":9,"t":376,"v":1.20},{"s":9,"t":420,"v":1.22},{"s":9,"t":439,"v":1.17},{"s":9,"t":470,"v":1.21},{"s":9,"t":480,"v":1.18},{"s":9,"t":502,"v":1.21},{"s":9,"t":540,"v":1.17},{"s":9,"t":565,"v":1.165},{"s":9,"t":600,"v":1.165},{"s":9,"t":628,"v":1.16},{"s":9,"t":650,"v":1.17},{"s":9,"t":690,"v":1.165},{"s":9,"t":700,"v":1.17},{"s":9,"t":720,"v":1.20},{"s":9,"t":740,"v":1.16},{"s":9,"t":757,"v":1.16},
{"s":10,"t":6,"v":1.12},{"s":10,"t":30,"v":1.18},{"s":10,"t":63,"v":1.21},{"s":10,"t":100,"v":1.22},{"s":10,"t":150,"v":1.24},{"s":10,"t":200,"v":1.25},{"s":10,"t":251,"v":1.26},{"s":10,"t":313,"v":1.27},{"s":10,"t":376,"v":1.275},{"s":10,"t":439,"v":1.275},{"s":10,"t":502,"v":1.27},{"s":10,"t":565,"v":1.265},{"s":10,"t":628,"v":1.265},{"s":10,"t":690,"v":1.26},{"s":10,"t":720,"v":1.255},{"s":10,"t":757,"v":1.265},
{"s":11,"t":6,"v":1.12},{"s":11,"t":30,"v":1.17},{"s":11,"t":63,"v":1.20},{"s":11,"t":100,"v":1.23},{"s":11,"t":150,"v":1.245},{"s":11,"t":200,"v":1.25},{"s":11,"t":251,"v":1.255},{"s":11,"t":313,"v":1.26},{"s":11,"t":376,"v":1.255},{"s":11,"t":439,"v":1.255},{"s":11,"t":502,"v":1.25},{"s":11,"t":565,"v":1.245},{"s":11,"t":628,"v":1.24},{"s":11,"t":690,"v":1.22},{"s":11,"t":720,"v":1.20},{"s":11,"t":757,"v":1.21},
{"s":12,"t":6,"v":1.10},{"s":12,"t":40,"v":1.14},{"s":12,"t":75,"v":1.16},{"s":12,"t":125,"v":1.18},{"s":12,"t":188,"v":1.19},{"s":12,"t":251,"v":1.20},{"s":12,"t":313,"v":1.21},{"s":12,"t":376,"v":1.21},{"s":12,"t":439,"v":1.22},{"s":12,"t":502,"v":1.22},{"s":12,"t":565,"v":1.22},{"s":12,"t":628,"v":1.215},{"s":12,"t":690,"v":1.21},{"s":12,"t":720,"v":1.205},{"s":12,"t":757,"v":1.215},
{"s":13,"t":6,"v":1.10},{"s":13,"t":30,"v":1.13},{"s":13,"t":75,"v":1.16},{"s":13,"t":125,"v":1.185},{"s":13,"t":188,"v":1.21},{"s":13,"t":220,"v":1.23},{"s":13,"t":240,"v":1.20},{"s":13,"t":280,"v":1.20},{"s":13,"t":300,"v":1.22},{"s":13,"t":330,"v":1.21},{"s":13,"t":376,"v":1.21},{"s":13,"t":400,"v":1.195},{"s":13,"t":439,"v":1.195},{"s":13,"t":470,"v":1.175},{"s":13,"t":502,"v":1.17},{"s":13,"t":540,"v":1.155},{"s":13,"t":565,"v":1.145},{"s":13,"t":600,"v":1.15},{"s":13,"t":610,"v":1.145},{"s":13,"t":640,"v":1.16},{"s":13,"t":660,"v":1.18},{"s":13,"t":690,"v":1.18},{"s":13,"t":710,"v":1.165},{"s":13,"t":730,"v":1.155},{"s":13,"t":745,"v":1.165},{"s":13,"t":757,"v":1.225},
{"s":14,"t":6,"v":1.03},{"s":14,"t":25,"v":1.12},{"s":14,"t":50,"v":1.17},{"s":14,"t":80,"v":1.20},{"s":14,"t":125,"v":1.22},{"s":14,"t":188,"v":1.24},{"s":14,"t":251,"v":1.25},{"s":14,"t":313,"v":1.255},{"s":14,"t":376,"v":1.25},{"s":14,"t":439,"v":1.245},{"s":14,"t":502,"v":1.24},{"s":14,"t":565,"v":1.235},{"s":14,"t":628,"v":1.23},{"s":14,"t":690,"v":1.22},{"s":14,"t":720,"v":1.215},{"s":14,"t":757,"v":1.20},
{"s":15,"t":6,"v":1.16},{"s":15,"t":25,"v":1.25},{"s":15,"t":60,"v":1.27},{"s":15,"t":100,"v":1.28},{"s":15,"t":150,"v":1.30},{"s":15,"t":188,"v":1.29},{"s":15,"t":251,"v":1.31},{"s":15,"t":300,"v":1.30},{"s":15,"t":330,"v":1.31},{"s":15,"t":376,"v":1.28},{"s":15,"t":420,"v":1.295},{"s":15,"t":439,"v":1.27},{"s":15,"t":470,"v":1.29},{"s":15,"t":502,"v":1.27},{"s":15,"t":530,"v":1.275},{"s":15,"t":565,"v":1.27},{"s":15,"t":600,"v":1.265},{"s":15,"t":628,"v":1.26},{"s":15,"t":660,"v":1.255},{"s":15,"t":690,"v":1.245},{"s":15,"t":720,"v":1.24},{"s":15,"t":757,"v":1.24}
]},
"resolve":{"scale":{"color":"independent"}},
"spacing":15,
"vconcat":[
{"hconcat":[
{"title":{"text":"a","anchor":"start","fontSize":17,"offset":-18,"dx":5},
 "vconcat":[{"title":"Control","width":325,"height":219,"data":{"name":"a"},
 "mark":{"type":"line","strokeWidth":1.3},
 "encoding":{
 "x":{"field":"t","type":"quantitative","scale":{"domain":[0,762],"nice":false},"axis":{"values":[0,63,125,188,251,313,376,439,502,565,628,690,753],"title":"Time (min)"}},
 "y":{"field":"v","type":"quantitative","scale":{"domain":[0.9,1.9],"nice":false,"zero":false},"axis":{"values":[0.9,1.0,1.1,1.2,1.3,1.4,1.5,1.6,1.7,1.8,1.9],"format":".1f","title":"Ro-GFP-Mito 403/490 Ratio (A.U.)"}},
 "color":{"field":"s","type":"nominal","legend":null,"scale":{"domain":[1,2,3,4,5,6,7,8,9,10,11,12,13,14,15],"range":["#5a4aa8","#f4a6c0","#a6dbe8","#1f9a48","#d4ecc4","#fcd0a0","#f8f08c","#b8cce8","#d8eaf6","#2e8a8a","#4a2a90","#f01c2c","#111111","#d070b8","#a0147c"]}}}}],
 "resolve":{"scale":{"color":"independent"}}},
{"title":{"text":"b","anchor":"start","fontSize":17,"offset":-18,"dx":5},
 "vconcat":[{"title":"3-NP","width":325,"height":219,"data":{"name":"b"},
 "mark":{"type":"line","strokeWidth":1.3},
 "encoding":{
 "x":{"field":"t","type":"quantitative","scale":{"domain":[0,762],"nice":false},"axis":{"values":[0,63,125,188,251,313,376,439,502,565,628,690,753],"title":"Time (min)"}},
 "y":{"field":"v","type":"quantitative","scale":{"domain":[0.9,1.9],"nice":false,"zero":false},"axis":{"values":[0.9,1.0,1.1,1.2,1.3,1.4,1.5,1.6,1.7,1.8,1.9],"format":".1f","title":"Ro-GFP-Mito 403/490 Ratio (A.U.)"}},
 "color":{"field":"s","type":"nominal","legend":null,"scale":{"domain":[1,2,3,4,5,6,7,8,9,10,11,12,13,14,15],"range":["#2e2a8c","#b02a6e","#d8a6dc","#8ccbe4","#e8502c","#304a30","#a01830","#ec1028","#f0e010","#3090a0","#6a5acd","#111111","#9a1a88","#8cc63f","#d8a8d8"]}}}}],
 "resolve":{"scale":{"color":"independent"}}}
],"spacing":20,"resolve":{"scale":{"color":"independent"}}},
{"hconcat":[
{"title":{"text":"c","anchor":"start","fontSize":17,"offset":-18,"dx":5},
 "vconcat":[{"title":"AP5","width":325,"height":219,"data":{"name":"c"},
 "mark":{"type":"line","strokeWidth":1.3},
 "encoding":{
 "x":{"field":"t","type":"quantitative","scale":{"domain":[0,762],"nice":false},"axis":{"values":[0,63,125,188,251,313,376,439,502,565,628,690,753],"title":"Time (min)"}},
 "y":{"field":"v","type":"quantitative","scale":{"domain":[0.9,1.9],"nice":false,"zero":false},"axis":{"values":[0.9,1.0,1.1,1.2,1.3,1.4,1.5,1.6,1.7,1.8,1.9],"format":".1f","title":"Ro-GFP-Mito 403/490 Ratio (A.U.)"}},
 "color":{"field":"s","type":"nominal","legend":null,"scale":{"domain":[1,2,3,4,5,6,7,8,9,10,11,12,13,14,15,16,17,18],"range":["#dcecd4","#3a2c8c","#1f9a40","#a0207a","#d070b0","#6a60c8","#f6ee88","#ece400","#5ab8ec","#ec1020","#f4a8c4","#98c4e4","#8cc83c","#f07c1c","#5a50a8","#b4cdea","#a01830","#f8d4a4"]}}}}],
 "resolve":{"scale":{"color":"independent"}}},
{"title":{"text":"d","anchor":"start","fontSize":17,"offset":-18,"dx":5},
 "vconcat":[{"title":"3-NP+AP5","width":325,"height":219,"data":{"name":"d"},
 "mark":{"type":"line","strokeWidth":1.3},
 "encoding":{
 "x":{"field":"t","type":"quantitative","scale":{"domain":[0,762],"nice":false},"axis":{"values":[0,63,125,188,251,313,376,439,502,565,628,690,753],"title":"Time (min)"}},
 "y":{"field":"v","type":"quantitative","scale":{"domain":[0.9,1.9],"nice":false,"zero":false},"axis":{"values":[0.9,1.0,1.1,1.2,1.3,1.4,1.5,1.6,1.7,1.8,1.9],"format":".1f","title":"Ro-GFP-Mito 403/490 Ratio (A.U.)"}},
 "color":{"field":"s","type":"nominal","legend":null,"scale":{"domain":[1,2,3,4,5,6,7,8,9,10,11,12,13,14,15],"range":["#9c1a8c","#1a9641","#a01830","#f8b000","#111111","#e84830","#ec1020","#8cc63f","#a8cc28","#80c8e8","#f4a8c8","#7070d0","#2c2a8c","#e070a0","#ff1a1a"]}}}}],
 "resolve":{"scale":{"color":"independent"}}}
],"spacing":20,"resolve":{"scale":{"color":"independent"}}}
]
}
